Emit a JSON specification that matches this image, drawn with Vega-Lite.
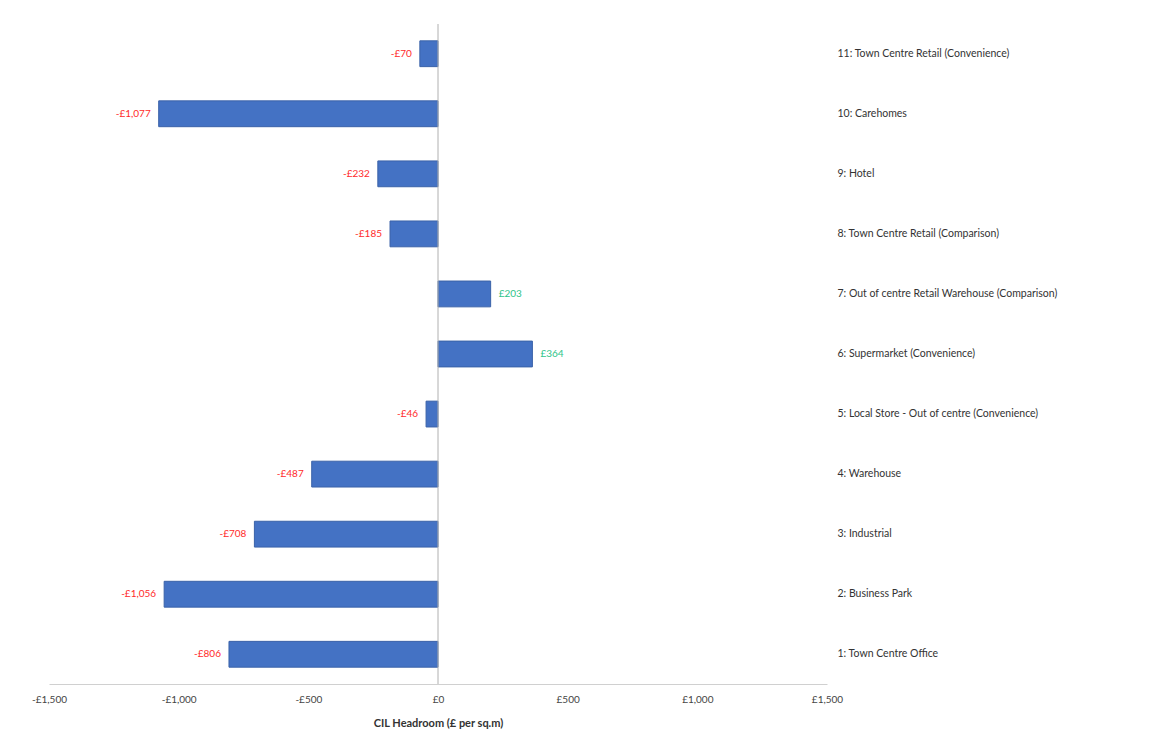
{
  "$schema": "https://vega.github.io/schema/vega-lite/v6.json",
  "width": 778,
  "height": 660,
  "padding": {"left": 31, "top": 23, "right": 5, "bottom": 5},
  "background": "white",
  "config": {
    "font": "Lato",
    "view": {"stroke": null},
    "axis": {"labelFont": "Lato", "titleFont": "Lato"}
  },
  "data": {
    "values": [
      {"use": "11: Town Centre Retail (Convenience)", "value": -70, "label": "-£70"},
      {"use": "10: Carehomes", "value": -1077, "label": "-£1,077"},
      {"use": "9: Hotel", "value": -232, "label": "-£232"},
      {"use": "8: Town Centre Retail (Comparison)", "value": -185, "label": "-£185"},
      {"use": "7: Out of centre Retail Warehouse (Comparison)", "value": 203, "label": "£203"},
      {"use": "6: Supermarket (Convenience)", "value": 364, "label": "£364"},
      {"use": "5: Local Store - Out of centre (Convenience)", "value": -46, "label": "-£46"},
      {"use": "4: Warehouse", "value": -487, "label": "-£487"},
      {"use": "3: Industrial", "value": -708, "label": "-£708"},
      {"use": "2: Business Park", "value": -1056, "label": "-£1,056"},
      {"use": "1: Town Centre Office", "value": -806, "label": "-£806"}
    ]
  },
  "encoding": {
    "y": {
      "field": "use",
      "type": "nominal",
      "sort": null,
      "scale": {"paddingInner": 0.57, "paddingOuter": 0.28},
      "axis": {
        "orient": "right",
        "title": null,
        "domain": false,
        "ticks": false,
        "labelPadding": 10,
        "labelFontSize": 10.5,
        "labelColor": "#333333",
        "labelLimit": 330
      }
    }
  },
  "layer": [
    {
      "mark": {"type": "bar", "color": "#4472C4", "stroke": "#3A62A8", "strokeWidth": 1},
      "encoding": {
        "x": {
          "field": "value",
          "type": "quantitative",
          "scale": {"domain": [-1500, 1500], "nice": false},
          "axis": {
            "values": [-1500, -1000, -500, 0, 500, 1000, 1500],
            "labelExpr": "datum.value < 0 ? '-£' + format(-datum.value, ',') : '£' + format(datum.value, ',')",
            "labelFlush": false,
            "grid": false,
            "ticks": false,
            "domainColor": "#d0d0d0",
            "labelColor": "#444444",
            "labelFontSize": 10,
            "labelPadding": 10,
            "title": "CIL Headroom (£ per sq.m)",
            "titleFontSize": 11,
            "titleFontWeight": "bold",
            "titleColor": "#333333",
            "titlePadding": 13
          }
        }
      }
    },
    {
      "mark": {"type": "rule", "color": "#b0b0b0", "strokeWidth": 1},
      "data": {"values": [{"zero": 0}]},
      "encoding": {
        "x": {"field": "zero", "type": "quantitative"},
        "y": null
      }
    },
    {
      "transform": [{"filter": "datum.value < 0"}],
      "mark": {"type": "text", "align": "right", "dx": -8, "color": "#FF2A2A", "fontSize": 10},
      "encoding": {
        "x": {"field": "value", "type": "quantitative"},
        "text": {"field": "label"}
      }
    },
    {
      "transform": [{"filter": "datum.value >= 0"}],
      "mark": {"type": "text", "align": "left", "dx": 8, "color": "#2EC48A", "fontSize": 10},
      "encoding": {
        "x": {"field": "value", "type": "quantitative"},
        "text": {"field": "label"}
      }
    }
  ]
}
